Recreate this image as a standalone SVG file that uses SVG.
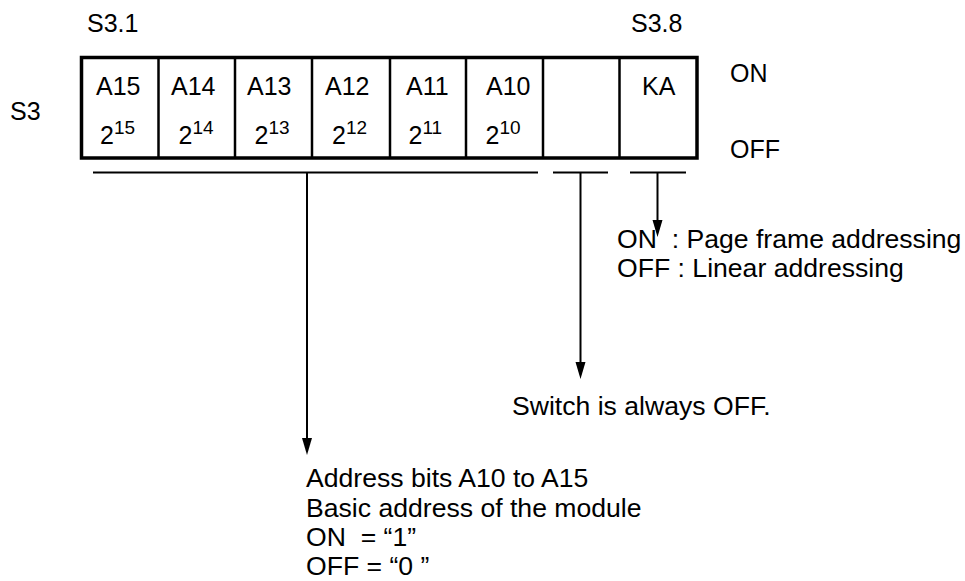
<svg xmlns="http://www.w3.org/2000/svg" width="965" height="581" viewBox="0 0 965 581">
<defs>
<style>
text{font-family:"Liberation Sans",Arial,Helvetica,sans-serif;font-size:25px;fill:#000;white-space:pre}
.sup{font-size:19px}
.note{font-size:26.6px}
.frame{fill:#fff;stroke:#000;stroke-width:3.5}
.div{stroke:#000;stroke-width:2.5}
.conn{stroke:#000;stroke-width:2;fill:none}
</style>
</defs>
<rect width="965" height="581" fill="#fff"/>
<g id="labels">
<text x="87" y="32">S3.1</text>
<text x="631" y="32">S3.8</text>
<text x="10" y="120">S3</text>
<text x="730" y="82">ON</text>
<text x="730" y="158">OFF</text>
</g>
<g id="switch">
<rect class="frame" x="81.5" y="57.5" width="615.5" height="100.5"/>
<line class="div" x1="158.5" y1="57.5" x2="158.5" y2="158"/>
<line class="div" x1="235" y1="57.5" x2="235" y2="158"/>
<line class="div" x1="312" y1="57.5" x2="312" y2="158"/>
<line class="div" x1="390" y1="57.5" x2="390" y2="158"/>
<line class="div" x1="466" y1="57.5" x2="466" y2="158"/>
<line class="div" x1="543" y1="57.5" x2="543" y2="158"/>
<line class="div" x1="619.5" y1="57.5" x2="619.5" y2="158"/>
</g>
<g id="cell-a15"><text x="96" y="95">A15</text><text x="100" y="144">2<tspan class="sup" dy="-10">15</tspan></text></g>
<g id="cell-a14"><text x="171" y="95">A14</text><text x="178.5" y="144">2<tspan class="sup" dy="-10">14</tspan></text></g>
<g id="cell-a13"><text x="247" y="95">A13</text><text x="254.5" y="144">2<tspan class="sup" dy="-10">13</tspan></text></g>
<g id="cell-a12"><text x="325" y="95">A12</text><text x="332" y="144">2<tspan class="sup" dy="-10">12</tspan></text></g>
<g id="cell-a11"><text x="406" y="95">A11</text><text x="408.5" y="144">2<tspan class="sup" dy="-10">11</tspan></text></g>
<g id="cell-a10"><text x="486" y="95">A10</text><text x="485.5" y="144">2<tspan class="sup" dy="-10">10</tspan></text></g>
<g id="cell-s37"></g>
<g id="cell-ka"><text x="642" y="95">KA</text></g>
<g id="connectors">
<line class="conn" x1="93" y1="172.5" x2="538" y2="172.5"/>
<line class="conn" x1="553" y1="172.5" x2="608" y2="172.5"/>
<line class="conn" x1="630" y1="172.5" x2="686" y2="172.5"/>
<line class="conn" x1="307" y1="172.5" x2="307" y2="440"/>
<polygon points="302,438 312,438 307,455"/>
<line class="conn" x1="580.5" y1="172.5" x2="580.5" y2="364"/>
<polygon points="575.5,362 585.5,362 580.5,379"/>
<line class="conn" x1="657.5" y1="172.5" x2="657.5" y2="222"/>
<polygon points="652.5,220 662.5,220 657.5,237"/>
</g>
<g id="note-ka">
<text class="note" x="617" y="248">ON  : Page frame addressing</text>
<text class="note" x="617" y="277">OFF : Linear addressing</text>
</g>
<g id="note-s37">
<text class="note" x="512" y="415">Switch is always OFF.</text>
</g>
<g id="note-address">
<text class="note" x="306" y="487">Address bits A10 to A15</text>
<text class="note" x="306" y="517">Basic address of the module</text>
<text class="note" x="306" y="546">ON  = “1”</text>
<text class="note" x="306" y="575">OFF = “0 ”</text>
</g>
</svg>
